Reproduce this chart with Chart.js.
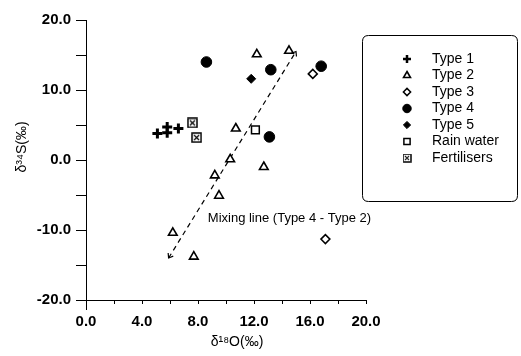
<!DOCTYPE html>
<html><head><meta charset="utf-8">
<script src="https://cdn.jsdelivr.net/npm/chart.js@4/dist/chart.umd.min.js"></script>
<style>html,body{margin:0;padding:0;background:#fff}#wrap{width:521px;height:356px}</style>
</head><body><div id="wrap"><canvas id="c" width="521" height="356"></canvas></div>
<script>
// ---- data (δ18O, δ34S in ‰) ----
const seriesNames = ["Type 1","Type 2","Type 3","Type 4","Type 5","Rain water","Fertilisers"];
const type1X = [5.1, 5.8, 5.8, 6.6];
const type1Y = [3.8, 3.9, 4.7, 4.5];
const type2X = [12.2, 14.5, 10.7, 10.3, 12.7, 9.2, 9.5, 6.2, 7.7];
const type2Y = [15.1, 15.6, 4.5, 0.1, -1.0, -2.2, -5.1, -10.4, -13.8];
const type3X = [16.2, 17.1];
const type3Y = [12.3, -11.3];
const type4X = [8.6, 13.2, 16.8, 13.1];
const type4Y = [14.0, 12.9, 13.4, 3.3];
const type5X = [11.8];
const type5Y = [11.6];
const rainX = [12.1];
const rainY = [4.3];
const fertX = [7.6, 7.9];
const fertY = [5.3, 3.2];
const mixX = [5.9, 15.0];
const mixY = [-14.0, 15.5];
const mixLabel = "Mixing line (Type 4 - Type 2)";
const mixLabelPos = [8.7, -8.4];
const xTickLabels = ["0.0","4.0","8.0","12.0","16.0","20.0"];
const yTickLabels = ["-20.0","-10.0","0.0","10.0","20.0"];
const xTitle = "δ¹⁸O(‰)";
const yTitle = "δ³⁴S(‰)";

const pts = (xs, ys) => xs.map((x, i) => ({x, y: ys[i]}));

// fertiliser symbol: boxed X
function boxX(size) {
  const c = document.createElement('canvas');
  c.width = size; c.height = size;
  const g = c.getContext('2d');
  g.strokeStyle = '#000'; g.lineWidth = 1.5;
  g.strokeRect(1, 1, size - 2, size - 2);
  g.lineWidth = 1.2;
  g.beginPath();
  g.moveTo(3, 3); g.lineTo(size - 3, size - 3);
  g.moveTo(size - 3, 3); g.lineTo(3, size - 3);
  g.stroke();
  return c;
}

const styles = [
  {pointStyle: 'cross', radius: 5, borderWidth: 3, bg: '#000'},
  {pointStyle: 'triangle', radius: 5, borderWidth: 1.6, bg: '#fff'},
  {pointStyle: 'rectRot', radius: 4.5, borderWidth: 1.5, bg: '#fff'},
  {pointStyle: 'circle', radius: 5.3, borderWidth: 1, bg: '#000'},
  {pointStyle: 'rectRot', radius: 4.5, borderWidth: 1, bg: '#000'},
  {pointStyle: 'rect', radius: 5.5, borderWidth: 1.5, bg: '#fff'},
  {pointStyle: boxX(11), radius: 5.5, borderWidth: 1, bg: '#fff'}
];
const seriesData = [
  pts(type1X, type1Y), pts(type2X, type2Y), pts(type3X, type3Y), pts(type4X, type4Y),
  pts(type5X, type5Y), pts(rainX, rainY), pts(fertX, fertY)
];

const datasets = seriesNames.map((name, i) => ({
  type: 'scatter',
  label: name,
  data: seriesData[i],
  pointStyle: styles[i].pointStyle,
  pointRadius: styles[i].radius,
  pointBorderWidth: styles[i].borderWidth,
  pointBackgroundColor: styles[i].bg,
  pointBorderColor: '#000',
  backgroundColor: styles[i].bg,
  borderColor: '#000'
}));
datasets.push({
  type: 'line',
  label: 'mix',
  data: pts(mixX, mixY),
  borderColor: '#000',
  borderWidth: 1.2,
  borderDash: [5, 4],
  pointRadius: 0,
  fill: false
});

const FONT = "'Liberation Sans', Arial, sans-serif";

const extras = {
  id: 'extras',
  afterDraw(chart) {
    const ctx = chart.ctx;
    const xs = chart.scales.x, ys = chart.scales.y;
    ctx.save();
    // arrowheads at mixing line ends
    const p0 = {x: xs.getPixelForValue(mixX[0]), y: ys.getPixelForValue(mixY[0])};
    const p1 = {x: xs.getPixelForValue(mixX[1]), y: ys.getPixelForValue(mixY[1])};
    ctx.strokeStyle = '#000'; ctx.lineWidth = 1.2;
    [[p0, p1], [p1, p0]].forEach(([a, b]) => {
      const ang = Math.atan2(a.y - b.y, a.x - b.x);
      ctx.beginPath();
      ctx.moveTo(a.x + 5 * Math.cos(ang + 2.5), a.y + 5 * Math.sin(ang + 2.5));
      ctx.lineTo(a.x, a.y);
      ctx.lineTo(a.x + 5 * Math.cos(ang - 2.5), a.y + 5 * Math.sin(ang - 2.5));
      ctx.stroke();
    });
    // mixing line label
    ctx.fillStyle = '#000';
    ctx.font = "13px " + FONT;
    ctx.textAlign = 'left'; ctx.textBaseline = 'middle';
    ctx.fillText(mixLabel, xs.getPixelForValue(mixLabelPos[0]), ys.getPixelForValue(mixLabelPos[1]));
    // axis titles
    ctx.font = "14px " + FONT;
    ctx.textAlign = 'center';
    ctx.fillText(xTitle, 237, 342);
    ctx.save();
    ctx.translate(22, 147);
    ctx.rotate(-Math.PI / 2);
    ctx.fillText(yTitle, 0, 0);
    ctx.restore();
    // y axis extension below x axis
    ctx.lineWidth = 1;
    ctx.beginPath();
    ctx.moveTo(chart.chartArea.left + 0.5, chart.chartArea.bottom);
    ctx.lineTo(chart.chartArea.left + 0.5, chart.chartArea.bottom + 10);
    ctx.stroke();
    // legend box
    const bx = 362.5, by = 35.5, bw = 155, bh = 166, r = 6;
    ctx.beginPath();
    ctx.moveTo(bx + r, by);
    ctx.lineTo(bx + bw - r, by); ctx.quadraticCurveTo(bx + bw, by, bx + bw, by + r);
    ctx.lineTo(bx + bw, by + bh - r); ctx.quadraticCurveTo(bx + bw, by + bh, bx + bw - r, by + bh);
    ctx.lineTo(bx + r, by + bh); ctx.quadraticCurveTo(bx, by + bh, bx, by + bh - r);
    ctx.lineTo(bx, by + r); ctx.quadraticCurveTo(bx, by, bx + r, by);
    ctx.stroke();
    // legend entries
    ctx.font = "14px " + FONT;
    ctx.textAlign = 'left'; ctx.textBaseline = 'middle';
    seriesNames.forEach((name, i) => {
      const yy = 59 + i * 16.5;
      const st = styles[i];
      ctx.fillStyle = st.bg; ctx.strokeStyle = '#000';
      ctx.lineWidth = i === 0 ? 2.5 : st.borderWidth;
      if (typeof st.pointStyle === 'string') {
        Chart.helpers.drawPoint(ctx, {pointStyle: st.pointStyle, radius: st.radius * 0.8, borderWidth: ctx.lineWidth, rotation: 0}, 407, yy);
      } else {
        ctx.drawImage(st.pointStyle, 407 - 4.5, yy - 4.5, 9, 9);
      }
      ctx.fillStyle = '#000';
      ctx.fillText(name, 432, yy);
    });
    ctx.restore();
  }
};

new Chart(document.getElementById('c'), {
  data: {datasets},
  options: {
    responsive: false,
    animation: false,
    layout: {padding: {top: 20, right: 155, bottom: 0, left: 0}},
    plugins: {legend: {display: false}, tooltip: {enabled: false}},
    scales: {
      x: {
        type: 'linear', min: 0, max: 20,
        afterFit(s) { s.height = 56; },
        ticks: {
          stepSize: 2, color: '#000', padding: 9, maxRotation: 0, autoSkip: false,
          font: {family: FONT, size: 15, weight: 'bold'},
          callback: (v) => (v % 4 === 0 ? xTickLabels[v / 4] : '')
        },
        grid: {drawOnChartArea: false, drawTicks: true, tickLength: 4, color: '#000'},
        border: {display: true, color: '#000', width: 1}
      },
      y: {
        type: 'linear', min: -20, max: 20,
        afterFit(s) { s.width = 86; },
        ticks: {
          stepSize: 5, color: '#000', padding: 5, autoSkip: false,
          font: {family: FONT, size: 15, weight: 'bold'},
          callback: (v) => (v % 10 === 0 ? yTickLabels[(v + 20) / 10] : '')
        },
        grid: {drawOnChartArea: false, drawTicks: true, tickLength: 10, color: '#000'},
        border: {display: true, color: '#000', width: 1}
      }
    }
  },
  plugins: [extras]
});
</script></body></html>
